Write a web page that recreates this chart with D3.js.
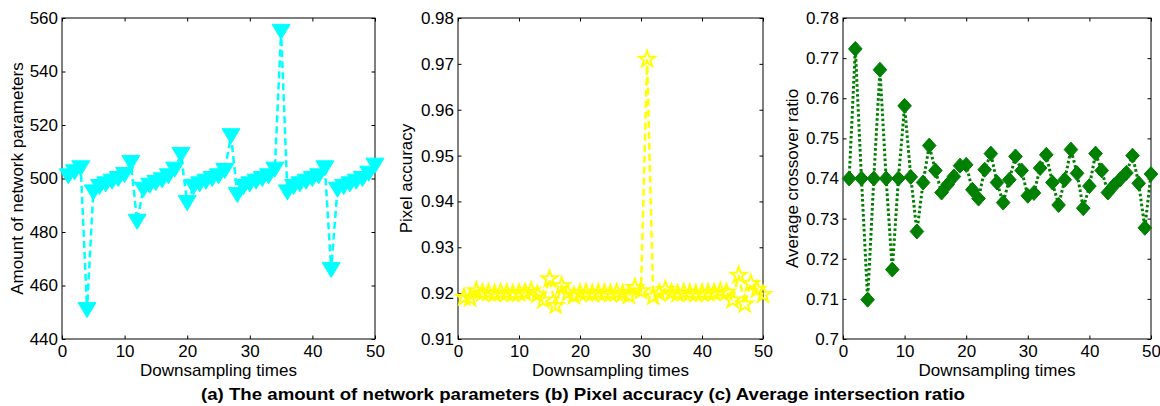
<!DOCTYPE html>
<html><head><meta charset="utf-8">
<script src="https://cdn.jsdelivr.net/npm/d3@7/dist/d3.min.js"></script>
<style>
body{margin:0;background:#fff}
text{font-family:"Liberation Sans",Arial,Helvetica,sans-serif;fill:#000}
</style></head><body>
<svg id="c" width="1160" height="406"></svg>
<script>
// ---- data ----
const downsamplingTimes = [1,2,3,4,5,6,7,8,9,10,11,12,13,14,15,16,17,18,19,20,21,22,23,24,25,26,27,28,29,30,31,32,33,34,35,36,37,38,39,40,41,42,43,44,45,46,47,48,49,50];
const networkParams = [501,502.5,504,451,495,497,498,499,500,501.5,506,484,496,497.5,498.5,499.5,501,503.5,509,491,497,498,499,500,501,503,516,494,497,498,499,500,501,503.5,555,495,497,498,499,500,501,504,466,496,497,498,499,500,502,505];
const pixelAccuracy = [0.9191,0.9189,0.9205,0.9200,0.9201,0.9199,0.9201,0.9200,0.9199,0.9200,0.9201,0.9205,0.9197,0.9185,0.9231,0.9173,0.9216,0.9200,0.9194,0.9200,0.9201,0.9199,0.9201,0.9200,0.9199,0.9201,0.9199,0.9195,0.9212,0.9205,0.9710,0.9193,0.9200,0.9208,0.9201,0.9199,0.9201,0.9200,0.9199,0.9200,0.9200,0.9201,0.9204,0.9202,0.9185,0.9239,0.9176,0.9221,0.9208,0.9197];
const crossoverRatio = [0.7400,0.7723,0.7400,0.7098,0.7400,0.7671,0.7400,0.7173,0.7400,0.7581,0.7404,0.7268,0.7390,0.7482,0.7420,0.7365,0.7385,0.7405,0.7432,0.7434,0.7372,0.7350,0.7422,0.7462,0.7390,0.7340,0.7397,0.7455,0.7420,0.7357,0.7364,0.7426,0.7459,0.7390,0.7334,0.7397,0.7472,0.7413,0.7326,0.7381,0.7462,0.7420,0.7365,0.7383,0.7398,0.7414,0.7457,0.7388,0.7277,0.7411];
const xTicks = [0,10,20,30,40,50];
const yTicks1 = [440,460,480,500,520,540,560];
const yTicks2 = [0.91,0.92,0.93,0.94,0.95,0.96,0.97,0.98];
const yTickLabels2 = ["0.91","0.92","0.93","0.94","0.95","0.96","0.97","0.98"];
const yTicks3 = [0.70,0.71,0.72,0.73,0.74,0.75,0.76,0.77,0.78];
const yTickLabels3 = ["0.7","0.71","0.72","0.73","0.74","0.75","0.76","0.77","0.78"];
const xLabel = "Downsampling times";
const yLabels = ["Amount of network parameters","Pixel accuracy","Average crossover ratio"];
const caption = "(a) The amount of network parameters (b) Pixel accuracy (c) Average intersection ratio";

// ---- layout ----
const svg = d3.select("#c");
const plotTop = 18, plotBottom = 339;
const panels = [
  {left:62, right:375, domain:[440,560], ticks:yTicks1, labels:yTicks1.map(String), values:networkParams,
   color:"#00ffff", dash:"7,4", width:2.5, marker:"tri", ylabelX:17},
  {left:458, right:763, domain:[0.91,0.98], ticks:yTicks2, labels:yTickLabels2, values:pixelAccuracy,
   color:"#ffff00", dash:"7,4", width:2.5, marker:"star", ylabelX:406},
  {left:843, right:1151, domain:[0.70,0.78], ticks:yTicks3, labels:yTickLabels3, values:crossoverRatio,
   color:"#008000", dash:"2.6,2.4", width:3, marker:"diamond", ylabelX:792}
];
const FS = 17;

function starPath(R, r){
  const pts=[];
  for(let i=0;i<10;i++){
    const a = -Math.PI/2 + i*Math.PI/5;
    const rad = i%2===0?R:r;
    pts.push([rad*Math.cos(a), rad*Math.sin(a)]);
  }
  return "M"+pts.map(p=>p[0].toFixed(2)+","+p[1].toFixed(2)).join("L")+"Z";
}
const markerPaths = {
  tri: "M-9,-7 L9,-7 L0,8 Z",
  diamond: "M0,-7.5 L6.8,0 L0,7.5 L-6.8,0 Z",
  star: starPath(8.5, 3.4)
};

panels.forEach((p, idx) => {
  const x = d3.scaleLinear().domain([0,50]).range([p.left, p.right]);
  const y = d3.scaleLinear().domain(p.domain).range([plotBottom, plotTop]);
  const g = svg.append("g");

  const tl = 3.5;
  const ax = (axis, tr) => {
    const a = g.append("g").attr("transform", tr).call(axis);
    a.select(".domain").remove();
    a.selectAll("line").attr("stroke","#000");
    return a;
  };
  const bx = ax(d3.axisBottom(x).tickValues(xTicks).tickSizeInner(-tl).tickSizeOuter(0).tickPadding(6), `translate(0,${plotBottom})`);
  bx.selectAll("text").attr("font-size",FS).attr("font-family","Liberation Sans, Arial").attr("fill","#000");
  ax(d3.axisTop(x).tickValues(xTicks).tickSizeInner(-tl).tickSizeOuter(0).tickFormat(""), `translate(0,${plotTop})`);
  const ly = ax(d3.axisLeft(y).tickValues(p.ticks).tickSizeInner(-tl).tickSizeOuter(0).tickPadding(4).tickFormat((d,i)=>p.labels[i]), `translate(${p.left},0)`);
  ly.selectAll("text").attr("font-size",FS).attr("font-family","Liberation Sans, Arial").attr("fill","#000");
  ax(d3.axisRight(y).tickValues(p.ticks).tickSizeInner(-tl).tickSizeOuter(0).tickFormat(""), `translate(${p.right},0)`);

  g.append("rect").attr("x",p.left).attr("y",plotTop).attr("width",p.right-p.left).attr("height",plotBottom-plotTop)
    .attr("fill","none").attr("stroke","#000").attr("stroke-width",1);

  const line = d3.line().x((d,i)=>x(downsamplingTimes[i])).y(d=>y(d));
  g.append("path").datum(p.values).attr("d",line).attr("fill","none")
    .attr("stroke",p.color).attr("stroke-width",p.width).attr("stroke-dasharray",p.dash);

  g.selectAll(".m").data(p.values).enter().append("path")
    .attr("transform",(d,i)=>`translate(${x(downsamplingTimes[i])},${y(d)})`)
    .attr("d",markerPaths[p.marker])
    .attr("fill", p.marker==="star" ? "none" : p.color)
    .attr("stroke",p.color).attr("stroke-width", p.marker==="star"?2:1)
    .attr("stroke-linejoin","miter");

  g.append("text").attr("x",(p.left+p.right)/2).attr("y",376).attr("text-anchor","middle")
    .attr("font-size",FS).text(xLabel);
  g.append("text").attr("transform",`translate(${p.ylabelX+6},${(plotTop+plotBottom)/2}) rotate(-90)`)
    .attr("text-anchor","middle").attr("font-size",FS).text(yLabels[idx]);
});

svg.append("text").attr("x",583).attr("y",400).attr("text-anchor","middle")
  .attr("font-size",17).attr("font-weight","bold")
  .attr("textLength",764).attr("lengthAdjust","spacingAndGlyphs").text(caption);
</script>
</body></html>
